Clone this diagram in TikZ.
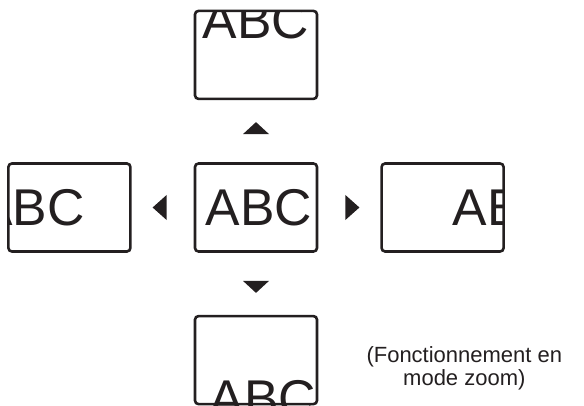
\documentclass[tikz,border=0pt]{standalone}
\usepackage{fontspec}
\setmainfont{Liberation Sans}
\usetikzlibrary{positioning, calc}
\definecolor{screenink}{HTML}{231F20}

\begin{document}
\begin{tikzpicture}[x=1pt, y=1pt,
    screen/.style={draw=screenink, line width=2.6pt, rounded corners=3.5pt,
      minimum width=122pt, minimum height=88pt, inner sep=0pt},
    letters/.style={text=screenink, font=\fontsize{51.7}{60}\selectfont, inner sep=0pt},
    node distance=62pt]
  \useasboundingbox (0,0) rectangle (584,405);
  % screens
  \node[screen] (mid) at (256,197.5) {};
  \node[screen, above=of mid] (up) {};
  \node[screen, below=of mid] (down) {};
  \node[screen, left=of mid] (left) {};
  \node[screen, right=of mid] (right) {};
  % what each screen shows
  \foreach \scr/\dx/\dy in {mid/3/0, up/0/34.4, down/7/-38.4, left/-37.8/0, right/63.4/0} {
    \begin{scope}
      \clip[rounded corners=3.5pt] (\scr.south west) rectangle (\scr.north east);
      \node[letters] (\scr text) at ($(\scr.center)+(\dx,\dy)$) {ABC};
    \end{scope}
  }
  % pointers
  \coordinate (ptup) at ($(mid.north)!0.55!(up.south)$);
  \coordinate (ptdown) at ($(mid.south)!0.55!(down.north)$);
  \coordinate (ptleft) at ($(mid.west)!0.55!(left.east)$);
  \coordinate (ptright) at ($(mid.east)!0.55!(right.west)$);
  \fill[screenink] (ptup) +(0,6) -- +(-13,-6) -- +(13,-6) -- cycle;
  \fill[screenink] (ptdown) +(0,-6) -- +(-13,6) -- +(13,6) -- cycle;
  \fill[screenink] (ptleft) +(-7,0) -- +(7,12.5) -- +(7,-12.5) -- cycle;
  \fill[screenink] (ptright) +(7,0) -- +(-7,12.5) -- +(-7,-12.5) -- cycle;
  \node[right=48pt of down, yshift=-8.5pt, align=center, inner sep=0pt,
        text=screenink, font=\fontsize{22}{23}\selectfont] (note)
        {(Fonctionnement en\\mode zoom)};
\end{tikzpicture}
\end{document}
